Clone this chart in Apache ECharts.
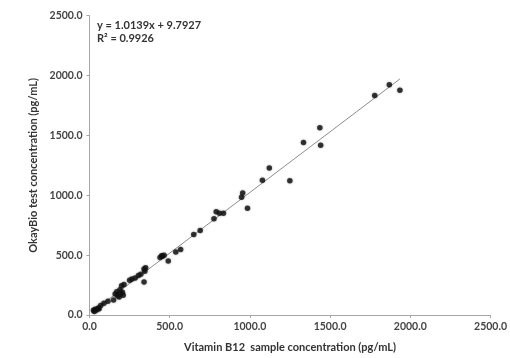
<!DOCTYPE html>
<html><head><meta charset="utf-8">
<script src="https://cdn.jsdelivr.net/npm/echarts@6/dist/echarts.min.js"></script>
<style>html,body{margin:0;padding:0;background:#fff}#c{width:510px;height:358px}</style>
</head><body><div id="c"></div>
<script>
// sample concentration (x) and OkayBio test concentration (y), pg/mL
const sampleX = [25,30,35,45,55,60,70,90,115,150,160,170,175,185,190,195,200,205,210,215,
  250,265,285,305,320,340,345,350,340,440,450,455,465,491,538,568,650,690,776,790,810,835,
  948,955,985,1078,1121,1249,1334,1436,1441,1778,1869,1935];
const testY = [40,30,48,42,58,52,80,98,115,125,175,195,160,150,210,175,245,190,165,255,
  290,300,310,330,340,275,365,395,385,480,495,490,500,452,527,548,673,706,803,862,850,850,
  983,1019,892,1125,1227,1121,1440,1565,1418,1833,1924,1877];
const xTicks = [0,500,1000,1500,2000,2500];
const yTicks = [0,500,1000,1500,2000,2500];
const slope = 1.0139, intercept = 9.7927, r2 = 0.9926;
const eqText = 'y = 1.0139x + 9.7927';
const r2Text = 'R² = 0.9926';

const pts = sampleX.map((x,i)=>[x,testY[i]]);
const xmin = Math.min(...sampleX), xmax = Math.max(...sampleX);
const trend = [[xmin, slope*xmin+intercept],[xmax, slope*xmax+intercept]];

const font = 'Lato';
const chart = echarts.init(document.getElementById('c'));
chart.setOption({
  animation:false,
  textStyle:{fontFamily:font},
  grid:{left:89.5,right:10.7,top:15.7,bottom:41.3,containLabel:false},
  xAxis:{type:'value',min:0,max:2500,interval:500,
    name:'Vitamin B12  sample concentration (pg/mL)',nameLocation:'middle',nameGap:27,
    nameTextStyle:{fontFamily:font,fontSize:11,fontWeight:'bold',color:'#333'},
    axisLine:{show:true,lineStyle:{color:'#a6a6a6',width:1}},
    axisTick:{show:true,length:3,lineStyle:{color:'#a6a6a6'}},
    splitLine:{show:false},
    axisLabel:{formatter:v=>v.toFixed(1),fontSize:10.5,fontWeight:'bold',color:'#444',margin:6,showMaxLabel:true}
  },
  yAxis:{type:'value',min:0,max:2500,interval:500,
    name:'OkayBio test concentration (pg/mL)',nameLocation:'middle',nameGap:51,
    nameTextStyle:{fontFamily:font,fontSize:11,fontWeight:'bold',color:'#333'},
    axisLine:{show:true,lineStyle:{color:'#a6a6a6',width:1}},
    axisTick:{show:true,length:3,lineStyle:{color:'#a6a6a6'}},
    splitLine:{show:false},
    axisLabel:{formatter:v=>v.toFixed(1),fontSize:10.5,fontWeight:'bold',color:'#444',margin:7}
  },
  series:[
    {type:'line',data:trend,symbol:'none',lineStyle:{color:'#8c8c8c',width:1},z:1},
    {type:'scatter',data:pts,symbol:'circle',symbolSize:5.5,itemStyle:{color:'#111',shadowBlur:2,shadowColor:'rgba(0,0,0,0.5)'},z:2}
  ],
  graphic:[
    {type:'text',left:97,top:20,style:{text:eqText,fontFamily:font,fontSize:11,fontWeight:'bold',fill:'#333'}},
    {type:'text',left:97,top:33,style:{text:r2Text,fontFamily:font,fontSize:11,fontWeight:'bold',fill:'#333'}}
  ]
});
</script></body></html>
